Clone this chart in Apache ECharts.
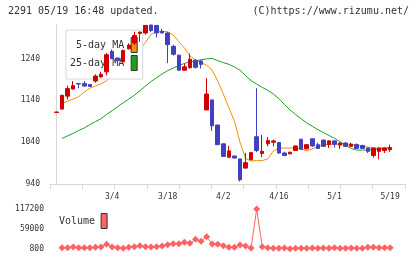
<!DOCTYPE html>
<html><head><meta charset="utf-8">
<script src="https://cdn.jsdelivr.net/npm/echarts@6/dist/echarts.min.js"></script>
<style>html,body{margin:0;padding:0;background:#fff}#c{width:420px;height:259px}</style>
</head><body><div id="c"></div>
<script>
const titleText = '2291 05/19 16:48 updated.';
const creditText = '(C)https://www.rizumu.net/';
const dates = ['2/17','2/18','2/19','2/20','2/21','2/25','2/26','2/27','2/28','3/3','3/4','3/5','3/6','3/7','3/10','3/11','3/12','3/13','3/14','3/17','3/18','3/19','3/21','3/24','3/25','3/26','3/27','3/28','3/31','4/1','4/2','4/3','4/4','4/7','4/8','4/9','4/10','4/11','4/14','4/15','4/16','4/17','4/18','4/21','4/22','4/23','4/24','4/25','4/28','4/30','5/1','5/2','5/7','5/8','5/9','5/12','5/13','5/14','5/15','5/16','5/19'];
const opens  = [1111,1119,1150,1167,1180,1180,1178,1186,1196,1208,1257,1241,1232,1263,1277,1300,1301,1320,1319,1305,1301,1269,1248,1212,1218,1236,1234,1117,1141,1081,1036,1004,1007,1000,978,998,1053,1013,1036,1040,1039,1014,1012,1020,1047,1024,1048,1034,1045,1034,1043,1033,1038,1030,1034,1032,1026,1008,1018,1020,1022];
const closes = [1112,1152,1168,1175,1179,1174,1173,1198,1202,1249,1240,1235,1259,1272,1295,1303,1319,1307,1301,1301,1273,1250,1212,1220,1238,1219,1226,1155,1079,1034,1006,1019,1002,950,991,1015,1020,1018,1044,1043,1014,1008,1016,1031,1023,1034,1031,1025,1030,1043,1035,1038,1030,1035,1025,1025,1018,1026,1026,1026,1027];
const lows   = [1111,1119,1142,1166,1169,1173,1172,1182,1194,1200,1238,1233,1231,1262,1272,1280,1297,1303,1290,1300,1229,1247,1211,1211,1216,1216,1216,1117,1067,1033,1005,1003,1001,946,977,997,1016,1004,1030,1030,1013,1007,1011,1019,1022,1023,1029,1024,1029,1026,1027,1024,1029,1029,1024,1024,1014,1003,999,1014,1017];
const highs  = [1113,1153,1175,1186,1180,1186,1179,1202,1208,1253,1261,1242,1261,1276,1304,1304,1320,1320,1320,1311,1303,1273,1249,1228,1252,1238,1236,1193,1141,1081,1037,1031,1007,1000,1014,1015,1169,1057,1052,1046,1039,1017,1017,1032,1048,1035,1049,1039,1046,1044,1044,1039,1040,1039,1037,1034,1027,1027,1027,1027,1034];
const ma5  = [null,1132,1138,1143,1149,1160,1169,1174,1179,1187,1198,1212,1225,1237,1251,1262,1278,1298,1303,1305,1304,1296,1280,1265,1246,1236,1230,1224,1212,1186,1155,1122,1090,1040,1001,995,996,996,1000,1019,1025,1026,1026,1026,1024,1019,1024,1029,1034,1035,1035,1035,1035,1035,1034,1031,1028,1026,1026,1026,1026];
const ma25 = [null,1049,1055,1061,1068,1074,1082,1089,1096,1106,1115,1125,1134,1143,1152,1163,1174,1185,1194,1203,1211,1217,1223,1228,1232,1234,1237,1239,1240,1235,1230,1226,1220,1212,1199,1187,1179,1171,1164,1155,1144,1130,1117,1106,1096,1086,1078,1070,1063,1056,1049,1041,1032,1025,1021,1021,1021,1022,1024,1025,1026];
const volumes = [null,4680,4680,6620,4680,4680,4680,5650,6620,14380,6620,4680,2740,5650,7590,10500,7590,6620,7590,9530,13410,16320,16320,20200,17290,28930,23110,36690,15350,14380,10500,5650,5650,12440,9530,3710,117200,7590,4680,2740,2740,3710,1770,2740,2740,2740,3710,2740,3710,2740,4680,2740,2740,3710,2740,2740,5650,5650,4680,4680,4680];
const dateLabels = ['3/4','3/18','4/2','4/16','5/1','5/19'];
const priceTicks = [940,1040,1140,1240];
const volumeTicks = [800,59000,117200];

const FONT = 'DejaVu Sans Mono';
const RED = '#d00000', BLUE = '#4040c0', ORANGE = '#f39200', GREEN = '#1ea01e', VOL = '#ff6262';
const xMin = -1.17, xMax = 62.68;
const tickVals = [];
for (let k = 0; k <= 11; k++) tickVals.push(xMin + k * (xMax - xMin) / 11);
const labelIdx = dateLabels.map(d => dates.indexOf(d));

const candleData = dates.map((d, j) => [j, opens[j], closes[j], lows[j], highs[j]]);
const pairs = arr => arr.map((v, j) => [j, v == null ? '-' : v]);

const chart = echarts.init(document.getElementById('c'), null, {renderer: 'canvas'});
chart.setOption({
  animation: false,
  backgroundColor: '#fff',
  textStyle: {fontFamily: FONT},
  title: [
    {text: titleText, left: 8, top: 6, padding: 0, textStyle: {fontSize: 10, fontWeight: 'normal', color: '#333', fontFamily: FONT}},
    {text: creditText, right: 11, top: 6, padding: 0, textStyle: {fontSize: 10, fontWeight: 'normal', color: '#333', fontFamily: FONT}}
  ],
  legend: [
    {
      data: [{name: '5-day MA', icon: 'rect'}, {name: '25-day MA', icon: 'rect'}],
      orient: 'vertical', align: 'right', left: 66, top: 30,
      padding: [7, 5, 8, 4], itemGap: 2, itemWidth: 6, itemHeight: 15,
      backgroundColor: '#fff', borderColor: '#d8d8d8', borderWidth: 1,
      itemStyle: {borderColor: '#333', borderWidth: 1},
      textStyle: {fontSize: 10, color: '#333', fontFamily: FONT, padding: [0, 2, 0, 0]},
      selectedMode: false
    },
    {
      data: [{name: 'Volume', icon: 'rect'}],
      orient: 'vertical', align: 'right', left: 59, top: 213, padding: 0,
      itemWidth: 6, itemHeight: 15,
      itemStyle: {borderColor: '#333', borderWidth: 1},
      textStyle: {fontSize: 10, color: '#333', fontFamily: FONT, padding: [0, 1, 0, 0]},
      selectedMode: false
    }
  ],
  grid: [
    {left: 50, right: 15, top: 25, bottom: 75},
    {left: 50, right: 15, top: 209, bottom: 10}
  ],
  xAxis: [
    {
      type: 'value', gridIndex: 0, min: xMin, max: xMax,
      axisLine: {show: true, onZero: false, lineStyle: {color: '#d8d8d8', width: 1}},
      axisTick: {show: true, customValues: tickVals, length: 5, lineStyle: {color: '#d8d8d8'}},
      axisLabel: {show: true, customValues: labelIdx, formatter: v => dates[Math.round(v)] || '',
                  fontSize: 8, color: '#333', margin: 9, fontFamily: FONT},
      splitLine: {show: false}
    },
    {
      type: 'value', gridIndex: 1, min: xMin, max: xMax, show: false, splitLine: {show: false}
    }
  ],
  yAxis: [
    {
      type: 'value', gridIndex: 0, min: 940, max: 1320,
      axisLine: {show: true, lineStyle: {color: '#d8d8d8', width: 1}},
      axisTick: {show: false},
      axisLabel: {customValues: priceTicks, formatter: v => String(v), fontSize: 8, color: '#333', margin: 10, fontFamily: FONT},
      splitLine: {show: false}
    },
    {
      type: 'value', gridIndex: 1, min: 800, max: 117200,
      axisLine: {show: false}, axisTick: {show: false},
      axisLabel: {customValues: volumeTicks, formatter: v => String(v), fontSize: 8, color: '#333', margin: 6, fontFamily: FONT},
      splitLine: {show: false}
    }
  ],
  series: [
    {
      name: 'price', type: 'candlestick', xAxisIndex: 0, yAxisIndex: 0, z: 5,
      data: candleData, encode: {x: 0, y: [1, 2, 3, 4]}, barWidth: 4,
      itemStyle: {color: RED, color0: BLUE, borderColor: RED, borderColor0: BLUE, borderWidth: 1}
    },
    {
      name: '5-day MA', type: 'line', xAxisIndex: 0, yAxisIndex: 0, z: 2,
      data: pairs(ma5), showSymbol: false, symbol: 'none',
      lineStyle: {color: ORANGE, width: 1}, itemStyle: {color: ORANGE}
    },
    {
      name: '25-day MA', type: 'line', xAxisIndex: 0, yAxisIndex: 0, z: 2,
      data: pairs(ma25), showSymbol: false, symbol: 'none',
      lineStyle: {color: GREEN, width: 1}, itemStyle: {color: GREEN}
    },
    {
      name: 'Volume', type: 'line', xAxisIndex: 1, yAxisIndex: 1,
      data: pairs(volumes), symbol: 'diamond', symbolSize: 7, showSymbol: true,
      lineStyle: {color: VOL, width: 1}, itemStyle: {color: VOL}
    }
  ]
});
</script></body></html>
